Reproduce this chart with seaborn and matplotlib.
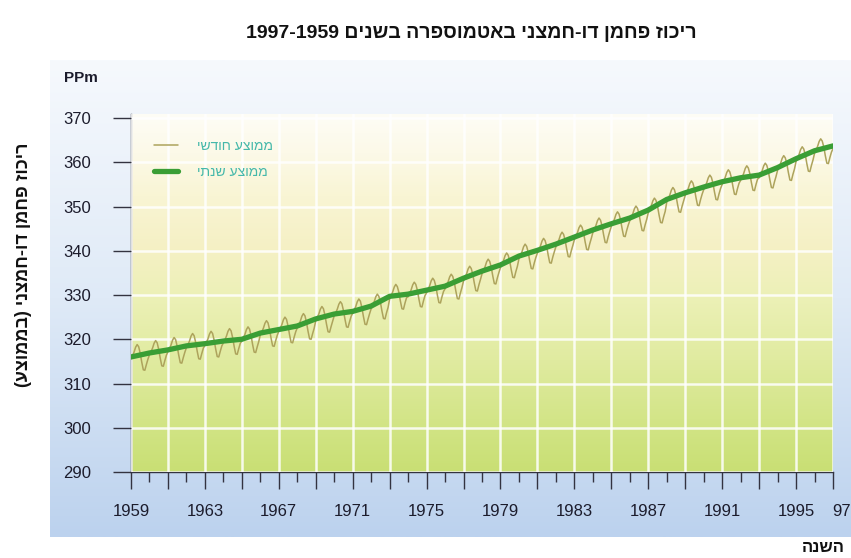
import re
import numpy as np
import matplotlib
matplotlib.use("Agg")
import matplotlib.pyplot as plt
import matplotlib.transforms as mtransforms
from matplotlib.colors import LinearSegmentedColormap
from matplotlib.ticker import FixedLocator, MultipleLocator
import seaborn as sns

# ---- data ----
years = list(range(1959, 1998))

annual_ppm = [316.0, 316.9, 317.6, 318.5, 319.0, 319.6, 320.0, 321.4, 322.2, 323.0,
              324.6, 325.7, 326.3, 327.5, 329.7, 330.2, 331.1, 332.0, 333.8, 335.4,
              336.8, 338.8, 340.1, 341.5, 343.1, 344.7, 346.1, 347.4, 349.2, 351.6,
              353.1, 354.4, 355.6, 356.5, 357.1, 358.8, 360.8, 362.6, 363.7]

# monthly means, one row per year (Jan..Dec)
monthly_ppm = [
    [315.6, 316.3, 317.1, 318.2, 318.8, 318.3, 316.8, 314.8, 313.1, 313.0, 314.3, 315.5],
    [316.5, 317.2, 318.0, 319.1, 319.7, 319.2, 317.7, 315.7, 314.0, 313.9, 315.2, 316.4],
    [317.2, 317.9, 318.7, 319.8, 320.4, 319.9, 318.4, 316.4, 314.7, 314.6, 315.9, 317.1],
    [318.1, 318.8, 319.6, 320.7, 321.3, 320.8, 319.3, 317.3, 315.6, 315.5, 316.8, 318.0],
    [318.6, 319.3, 320.1, 321.2, 321.8, 321.3, 319.8, 317.8, 316.1, 316.0, 317.3, 318.5],
    [319.2, 319.9, 320.7, 321.8, 322.4, 321.9, 320.4, 318.4, 316.7, 316.6, 317.9, 319.1],
    [319.6, 320.3, 321.1, 322.2, 322.8, 322.3, 320.8, 318.8, 317.1, 317.0, 318.3, 319.5],
    [321.0, 321.7, 322.5, 323.6, 324.2, 323.7, 322.2, 320.2, 318.5, 318.4, 319.7, 320.9],
    [321.8, 322.5, 323.3, 324.4, 325.0, 324.5, 323.0, 321.0, 319.3, 319.2, 320.5, 321.7],
    [322.6, 323.3, 324.1, 325.2, 325.8, 325.3, 323.8, 321.8, 320.1, 320.0, 321.3, 322.5],
    [324.2, 324.9, 325.7, 326.8, 327.4, 326.9, 325.4, 323.4, 321.7, 321.6, 322.9, 324.1],
    [325.3, 326.0, 326.8, 327.9, 328.5, 328.0, 326.5, 324.5, 322.8, 322.7, 324.0, 325.2],
    [325.9, 326.6, 327.4, 328.5, 329.1, 328.6, 327.1, 325.1, 323.4, 323.3, 324.6, 325.8],
    [326.9, 327.6, 328.5, 329.6, 330.2, 329.7, 328.4, 326.4, 324.7, 324.6, 326.0, 327.2],
    [329.1, 329.8, 330.7, 331.8, 332.4, 331.9, 330.6, 328.6, 326.9, 326.8, 328.2, 329.4],
    [329.6, 330.3, 331.2, 332.3, 332.9, 332.4, 331.1, 329.1, 327.4, 327.3, 328.7, 329.9],
    [330.5, 331.2, 332.1, 333.2, 333.8, 333.3, 332.0, 330.0, 328.3, 328.2, 329.6, 330.8],
    [331.4, 332.1, 333.0, 334.1, 334.7, 334.2, 332.9, 330.9, 329.2, 329.1, 330.5, 331.7],
    [333.2, 333.9, 334.8, 335.9, 336.5, 336.0, 334.7, 332.7, 331.0, 330.9, 332.3, 333.5],
    [334.8, 335.5, 336.4, 337.5, 338.1, 337.6, 336.3, 334.3, 332.6, 332.5, 333.9, 335.1],
    [336.2, 336.9, 337.8, 338.9, 339.5, 339.0, 337.7, 335.7, 334.0, 333.9, 335.3, 336.5],
    [338.2, 338.9, 339.8, 340.9, 341.5, 341.0, 339.7, 337.7, 336.0, 335.9, 337.3, 338.5],
    [339.5, 340.2, 341.1, 342.2, 342.8, 342.3, 341.0, 339.0, 337.3, 337.2, 338.6, 339.8],
    [340.9, 341.6, 342.5, 343.6, 344.2, 343.7, 342.4, 340.4, 338.7, 338.6, 340.0, 341.2],
    [342.5, 343.2, 344.1, 345.2, 345.8, 345.3, 344.0, 342.0, 340.3, 340.2, 341.6, 342.8],
    [344.1, 344.8, 345.7, 346.8, 347.4, 346.9, 345.6, 343.6, 341.9, 341.8, 343.2, 344.4],
    [345.5, 346.2, 347.1, 348.2, 348.8, 348.3, 347.0, 345.0, 343.3, 343.2, 344.6, 345.8],
    [346.8, 347.5, 348.4, 349.5, 350.1, 349.6, 348.3, 346.3, 344.6, 344.5, 345.9, 347.1],
    [348.6, 349.3, 350.2, 351.3, 351.9, 351.4, 350.1, 348.1, 346.4, 346.3, 347.7, 348.9],
    [351.0, 351.7, 352.6, 353.7, 354.3, 353.8, 352.5, 350.5, 348.8, 348.7, 350.1, 351.3],
    [352.5, 353.2, 354.1, 355.2, 355.8, 355.3, 354.0, 352.0, 350.3, 350.2, 351.6, 352.8],
    [353.8, 354.5, 355.4, 356.5, 357.1, 356.6, 355.3, 353.3, 351.6, 351.5, 352.9, 354.1],
    [355.0, 355.7, 356.6, 357.7, 358.3, 357.8, 356.5, 354.5, 352.8, 352.7, 354.1, 355.3],
    [355.9, 356.6, 357.5, 358.6, 359.2, 358.7, 357.4, 355.4, 353.7, 353.6, 355.0, 356.2],
    [356.5, 357.2, 358.1, 359.2, 359.8, 359.3, 358.0, 356.0, 354.3, 354.2, 355.6, 356.8],
    [358.2, 358.9, 359.8, 360.9, 361.5, 361.0, 359.7, 357.7, 356.0, 355.9, 357.3, 358.5],
    [360.2, 360.9, 361.8, 362.9, 363.5, 363.0, 361.7, 359.7, 358.0, 357.9, 359.3, 360.5],
    [362.0, 362.7, 363.6, 364.7, 365.3, 364.8, 363.5, 361.5, 359.8, 359.7, 361.1, 362.3],
    [363.1, 363.8, 364.7, 365.8, 366.4, 365.9, 364.6, 362.6, 360.9, 360.8, 362.2, 363.4],
]

y_ticks = [290, 300, 310, 320, 330, 340, 350, 360, 370]
x_major_ticks = list(range(1959, 1998, 2))
x_tick_labels = ["1959", "", "1963", "", "1967", "", "1971", "", "1975", "", "1979", "",
                 "1983", "", "1987", "", "1991", "", "1995", "97"]

title_text = "ריכוז פחמן דו-חמצני באטמוספרה בשנים 1959-1997"
ylabel_text = "ריכוז פחמן דו-חמצני (בממוצע)"
xlabel_text = "השנה"
label_monthly = "ממוצע חודשי"
label_annual = "ממוצע שנתי"


def visual(s):
    # matplotlib has no bidi support: lay hebrew out right-to-left by hand
    r = s[::-1].translate(str.maketrans("()", ")("))
    return re.sub(r"[0-9]+", lambda m: m.group(0)[::-1], r)


monthly_x = [y + m / 12 for y in years for m in range(12)]
monthly_y = [v for row in monthly_ppm for v in row]

sns.set_style("white")
plt.rcParams["font.family"] = ["Liberation Sans", "DejaVu Sans"]

W, H = 851, 558
fig = plt.figure(figsize=(W / 100, H / 100), dpi=100)
fig.patch.set_facecolor("white")

# light blue panel behind the chart
panel_cmap = LinearSegmentedColormap.from_list("panel", ["#f6f9fd", "#dfeaf7", "#bcd2ee"])
bg = fig.add_axes([50 / W, 1 - 537 / H, 801 / W, 477 / H])
bg.imshow(np.linspace(0, 1, 256)[:, None], aspect="auto", cmap=panel_cmap,
          extent=[0, 1, 0, 1], origin="upper")
bg.axis("off")

ax = fig.add_axes([131 / W, 1 - 472 / H, (833 - 131) / W, (472 - 113.6) / H])
ax.set_facecolor("none")

plot_cmap = LinearSegmentedColormap.from_list(
    "plotbg", [(0.0, "#c9df74"), (0.12, "#d1e484"), (0.31, "#e0eba0"), (0.5, "#edf1b8"),
               (0.62, "#f5f0c4"), (0.77, "#f9f5d4"), (0.89, "#fcf9e8"), (1.0, "#fefdf6")])
ax.imshow(np.linspace(0, 1, 256)[:, None], aspect="auto", cmap=plot_cmap,
          extent=[1959, 1997, 290, 371], origin="lower", zorder=0)

sns.lineplot(x=monthly_x, y=monthly_y, ax=ax, color="#ada35c", lw=1.1,
             label=visual(label_monthly), zorder=3)
sns.lineplot(x=years, y=annual_ppm, ax=ax, color="#3a9e35", lw=3.8,
             label=visual(label_annual), zorder=4)

ax.set_xlim(1959, 1997)
ax.set_ylim(290, 371)
ax.set_xlabel("")
ax.set_ylabel("")

ax.xaxis.set_major_locator(FixedLocator(x_major_ticks))
ax.xaxis.set_minor_locator(MultipleLocator(1))
ax.set_xticklabels(x_tick_labels)
ax.set_yticks(y_ticks)

ax.grid(True, which="major", color="white", lw=1.8, alpha=0.85, zorder=1)
ax.set_axisbelow(False)
for gl in ax.get_xgridlines() + ax.get_ygridlines():
    gl.set_zorder(1)

for side in ["top", "right"]:
    ax.spines[side].set_visible(False)
for side in ["left", "bottom"]:
    ax.spines[side].set_color("#333340")
    ax.spines[side].set_linewidth(1.0)

ax.tick_params(axis="x", which="major", direction="out", length=12, width=1,
               color="#333340", pad=11, labelsize=12, labelcolor="#1c1c2c", bottom=True)
ax.tick_params(axis="x", which="minor", direction="out", length=7, width=1,
               color="#333340", bottom=True)
ax.tick_params(axis="y", which="major", direction="out", length=13, width=1,
               color="#333340", pad=16, labelsize=12, labelcolor="#1c1c2c", left=True)
last = ax.get_xticklabels()[-1]
last.set_transform(last.get_transform() + mtransforms.ScaledTranslation(9 / 100, 0, fig.dpi_scale_trans))

leg = ax.legend(loc="upper left", bbox_to_anchor=(0.015, 0.965), frameon=False,
                fontsize=10, labelcolor="#45b8aa", handlelength=1.7, handletextpad=1.4,
                labelspacing=0.9)

fig.text(471 / W, 1 - 34 / H, visual(title_text), ha="center", va="center",
         fontsize=14, fontweight="bold", color="#111111")
fig.text(81 / W, 1 - 78 / H, "PPm", ha="center", va="center",
         fontsize=11, fontweight="bold", color="#1c1c2c")
fig.text(24 / W, 1 - 265 / H, visual(ylabel_text), ha="center", va="center",
         rotation=90, fontsize=13, fontweight="bold", color="#111111")
fig.text(823 / W, 1 - 548 / H, visual(xlabel_text), ha="center", va="center",
         fontsize=12, fontweight="bold", color="#111111")

fig.savefig("out.png", dpi=100)
